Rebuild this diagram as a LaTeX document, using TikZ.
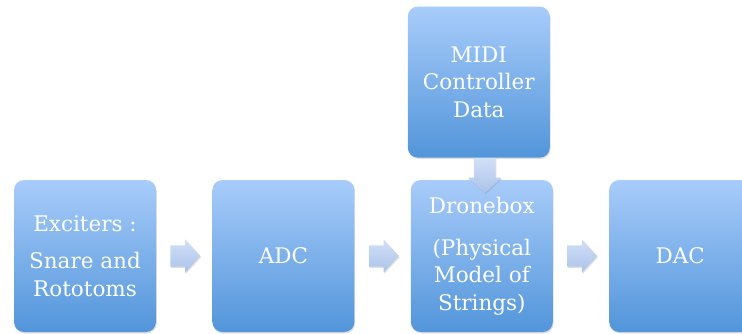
\documentclass[tikz,border=0pt]{standalone}
\usepackage{fontspec}
\setmainfont{DejaVu Serif}
\usepackage{tikz}
\usetikzlibrary{shapes.arrows, positioning, shadows}
\definecolor{boxtop}{HTML}{A8CCFA}
\definecolor{boxbottom}{HTML}{5295DA}
\definecolor{arrowtop}{HTML}{D2E0F6}
\definecolor{arrowbottom}{HTML}{AAC2EA}
\tikzset{
  block/.style={rectangle, rounded corners=10pt, minimum width=142pt, minimum height=152pt, inner sep=2pt,
                text centered, align=center, text=white, top color=boxtop, bottom color=boxbottom,
                font=\fontsize{21.5}{27.5}\selectfont,
                drop shadow={opacity=0.25, shadow xshift=0.8pt, shadow yshift=-1.5pt}},
  flow/.style={single arrow, single arrow head extend=6pt, single arrow tip angle=95,
               inner xsep=0pt, inner ysep=10.5pt, minimum height=30pt, top color=arrowtop, bottom color=arrowbottom,
               drop shadow={opacity=0.25, shadow xshift=0.8pt, shadow yshift=-1.2pt}}
}

\begin{document}
\begin{tikzpicture}[x=1pt, y=1pt]
\useasboundingbox (0,0) rectangle (742,333);

% Nodes
\node (exciters) [block] at (85,77) {Exciters :\\[10pt]Snare and\\Rototoms};
\node (adc) [block, right=56pt of exciters] {ADC};
\node (dronebox) [block, right=56pt of adc] {Dronebox\\[14pt](Physical\\Model of\\Strings)};
\node (dac) [block, right=56pt of dronebox] {DAC};
\node (midi) [block, minimum height=151pt, above=22pt of dronebox, xshift=-3pt] {MIDI\\Controller\\Data};

% Arrows
\node (toadc) [flow, right=14pt of exciters] {};
\node (todrone) [flow, right=14pt of adc] {};
\node (todac) [flow, right=14pt of dronebox] {};
\node (down) [flow, rotate=-90, minimum height=35pt, anchor=tail] at ([xshift=6pt]midi.south) {};
\end{tikzpicture}
\end{document}
